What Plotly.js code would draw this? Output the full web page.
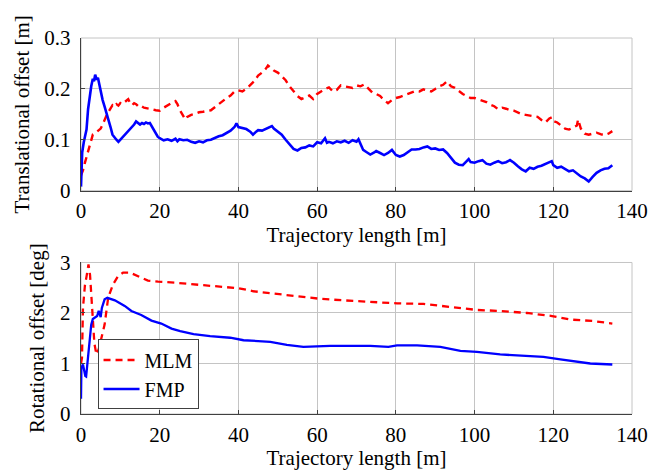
<!DOCTYPE html>
<html>
<head>
<meta charset="utf-8">
<script src="https://cdn.plot.ly/plotly-3.0.1.min.js"></script>
<style>html,body{margin:0;padding:0;background:#fff;}#chart{width:650px;height:472px;}</style>
</head>
<body>
<div id="chart"></div>
<script>
// ---- Top plot: translational offset [m] ----
const transX_FMP = [0,0.3,0.7,1,1.4,1.8,2.2,2.6,3,3.3,3.6,4,4.3,4.7,5,5.5,6,6.5,7,7.5,8,8.5,9,9.5,10,10.5,11,11.5,12,12.5,13,13.5,14,14.5,15,15.5,16,16.5,17,17.5,18,18.5,19,19.5,20,21,22,23,24,24.5,25,26,27,28,29,30,31,32,33,34,35,36,37,38,39,39.5,40,41,42,43,43.7,44.5,45,46,47,48,48.5,49,50,51,52,53,54,55,56,57,58,59,60,61,62,62.5,63,64,65,66,67,68,69,70,70.5,71,71.7,72.5,73.5,74.5,75,76,77,78,79,80,81,82,83,84,85,86,87,88,89,90,91,92,93,94,95,96,97,98,98.5,99,100,101,102,103,104,105,106,107,108,109,110,111,112,113,114,115,116,117,118,119,119.6,120,121,122,123,124,125,126,127,128,129,130,131,132,133,134,135];
const transY_FMP = [0.008,0.075,0.095,0.105,0.120,0.160,0.185,0.205,0.220,0.215,0.228,0.218,0.222,0.205,0.195,0.178,0.165,0.152,0.142,0.125,0.110,0.104,0.100,0.096,0.100,0.104,0.108,0.112,0.118,0.121,0.126,0.130,0.136,0.132,0.130,0.133,0.131,0.134,0.132,0.133,0.126,0.118,0.112,0.106,0.103,0.099,0.101,0.098,0.102,0.097,0.101,0.099,0.100,0.096,0.094,0.097,0.095,0.099,0.100,0.104,0.107,0.109,0.114,0.118,0.125,0.132,0.125,0.123,0.121,0.116,0.110,0.116,0.119,0.118,0.121,0.124,0.127,0.122,0.116,0.110,0.100,0.090,0.082,0.079,0.084,0.085,0.089,0.087,0.095,0.093,0.103,0.094,0.096,0.093,0.097,0.095,0.098,0.094,0.099,0.096,0.101,0.092,0.080,0.076,0.071,0.075,0.078,0.074,0.070,0.074,0.080,0.070,0.067,0.070,0.075,0.081,0.081,0.082,0.085,0.087,0.082,0.083,0.080,0.081,0.074,0.064,0.055,0.051,0.050,0.058,0.062,0.056,0.055,0.058,0.060,0.053,0.051,0.055,0.058,0.054,0.056,0.060,0.055,0.048,0.042,0.038,0.045,0.043,0.047,0.049,0.052,0.055,0.058,0.050,0.045,0.047,0.043,0.038,0.040,0.034,0.028,0.024,0.018,0.027,0.035,0.040,0.043,0.044,0.050];

const transX_MLM = [0,0.5,1,1.5,2,2.5,3,3.5,4,4.5,5,5.5,6,6.5,7,7.5,8,8.5,9,9.5,10,10.5,11,11.5,12,12.5,13,13.5,14,14.5,15,16,17,18,19,20,21,22,23,24,24.5,25,26,26.5,27,28,29,30,31,32,33,34,35,36,37,38,39,40,41,42,43,44,45,46,47,47.5,48,49,50,51,52,53,54,55,56,57,58,59,60,61,62,63,64,65,66,67,68,69,70,71,72,73,74,75,76,77,78,79,80,81,82,83,84,85,86,87,88,89,90,91,92,93,94,95,96,97,98,99,100,101,102,103,104,105,106,107,108,109,110,111,112,113,114,115,116,117,118,119,119.6,120,121,122,123,124,125,126,126.3,127,128,129,130,131,132,133,134,135];
const transY_MLM = [0.030,0.040,0.055,0.070,0.085,0.100,0.110,0.112,0.115,0.118,0.122,0.130,0.140,0.148,0.155,0.162,0.168,0.165,0.170,0.167,0.172,0.170,0.174,0.176,0.180,0.172,0.168,0.172,0.170,0.166,0.168,0.163,0.162,0.160,0.158,0.157,0.163,0.168,0.172,0.176,0.170,0.160,0.145,0.140,0.145,0.149,0.151,0.154,0.155,0.157,0.158,0.164,0.170,0.177,0.182,0.187,0.195,0.197,0.195,0.200,0.207,0.215,0.226,0.232,0.240,0.246,0.243,0.236,0.232,0.225,0.217,0.205,0.195,0.186,0.180,0.184,0.187,0.180,0.190,0.195,0.200,0.203,0.195,0.198,0.207,0.205,0.203,0.202,0.207,0.205,0.209,0.201,0.193,0.190,0.186,0.178,0.172,0.178,0.182,0.184,0.187,0.190,0.193,0.196,0.195,0.199,0.197,0.195,0.200,0.205,0.208,0.215,0.205,0.202,0.196,0.190,0.186,0.182,0.182,0.179,0.176,0.174,0.169,0.166,0.160,0.163,0.161,0.158,0.157,0.153,0.150,0.149,0.148,0.147,0.145,0.139,0.134,0.142,0.144,0.137,0.134,0.128,0.122,0.120,0.124,0.128,0.140,0.122,0.112,0.110,0.112,0.114,0.111,0.109,0.112,0.117];

// ---- Bottom plot: rotational offset [deg] ----
const rotX_MLM = [0,0.25,0.5,1,1.4,1.9,2.3,2.6,3.0,3.4,3.9,4.5,5.2,6.0,6.9,8.1,9.4,10.7,12.4,14.5,17,19.6,23.8,31.1,36.2,40,43.8,49.8,56.5,60.8,66.7,73.5,80.3,87,93.8,100.6,106.5,113.3,119.7,124.3,130.3,135];
const rotY_MLM = [1.0,1.11,2.1,2.55,2.72,2.96,2.75,2.43,1.80,1.40,1.18,1.28,1.51,1.77,2.30,2.56,2.73,2.80,2.80,2.73,2.64,2.62,2.60,2.55,2.52,2.49,2.43,2.38,2.32,2.28,2.25,2.22,2.19,2.18,2.12,2.06,2.04,2.00,1.94,1.87,1.84,1.79];

const rotX_FMP = [0,0.1,0.5,0.8,1.1,1.3,1.6,2.2,2.6,3.0,3.5,4.1,4.5,5.0,5.3,6.0,6.7,8.6,11.1,12.8,15.3,17.9,20.4,23,25.2,28.6,32.8,37.9,41.3,48.1,52.3,56.5,63.3,73.5,78.1,80.3,85.4,91.3,96.4,100.6,106.5,113.3,117.5,121.8,126,129.4,135];
const rotY_FMP = [0.30,0.92,0.98,0.85,0.75,0.74,0.95,1.44,1.77,1.88,1.91,1.94,2.04,1.92,2.10,2.27,2.30,2.25,2.14,2.04,1.96,1.85,1.79,1.69,1.64,1.58,1.54,1.51,1.46,1.43,1.37,1.33,1.35,1.35,1.33,1.36,1.36,1.33,1.25,1.23,1.18,1.15,1.13,1.08,1.03,1.00,0.98];

const seriesNames = ['MLM', 'FMP'];
const xTicks = [0,20,40,60,80,100,120,140];
const xTitle = 'Trajectory length [m]';
const yTitleTop = 'Translational offset [m]';
const yTitleBottom = 'Rotational offset [deg]';

const RED = '#ff0000', BLUE = '#0000ff';
const FONT = {family: '"Liberation Serif", "DejaVu Serif", serif', size: 21, color: '#000'};
const LFONT = {family: '"Liberation Serif", "DejaVu Serif", serif', size: 20, color: '#000'};
const DASH = '7px,5px';

const traces = [
  {x: transX_MLM, y: transY_MLM, xaxis: 'x', yaxis: 'y', mode: 'lines', name: seriesNames[0], showlegend: false,
   line: {color: RED, width: 2.4, dash: DASH}},
  {x: transX_FMP, y: transY_FMP, xaxis: 'x', yaxis: 'y', mode: 'lines', name: seriesNames[1], showlegend: false,
   line: {color: BLUE, width: 2.6}},
  {x: rotX_MLM, y: rotY_MLM, xaxis: 'x2', yaxis: 'y2', mode: 'lines', name: seriesNames[0],
   line: {color: RED, width: 2.3, dash: DASH}},
  {x: rotX_FMP, y: rotY_FMP, xaxis: 'x2', yaxis: 'y2', mode: 'lines', name: seriesNames[1],
   line: {color: BLUE, width: 2.3}}
];

const GRID = '#c4c4c4', AXC = '#404040';
function xa(anchor) {
  return {anchor: anchor, range: [0,140], tickvals: xTicks, showgrid: true, gridcolor: GRID, gridwidth: 1,
    showline: true, linecolor: AXC, linewidth: 1.3, ticks: 'inside', ticklen: 4, tickcolor: AXC, tickwidth: 1,
    zeroline: false, tickfont: FONT, ticklabelstandoff: 1,
    title: {text: xTitle, font: FONT, standoff: 4}, automargin: false};
}
function ya(anchor, dom, range, dtick, title) {
  return {anchor: anchor, domain: dom, range: range, dtick: dtick, tick0: 0, showgrid: true, gridcolor: GRID, gridwidth: 1,
    showline: true, linecolor: AXC, linewidth: 1.3, ticks: 'inside', ticklen: 4, tickcolor: AXC, tickwidth: 1,
    zeroline: false, tickfont: FONT, ticklabelstandoff: 5,
    title: {text: title, font: FONT, standoff: 9}, automargin: false};
}

const layout = {
  width: 650, height: 472,
  margin: {l: 81, r: 18, t: 38, b: 58},
  paper_bgcolor: '#fff', plot_bgcolor: '#fff',
  font: FONT,
  xaxis: xa('y'),
  yaxis: ya('x', [0.594, 1], [0, 0.3], 0.1, yTitleTop),
  xaxis2: xa('y2'),
  yaxis2: ya('x2', [0, 0.403], [0, 3], 1, yTitleBottom),
  shapes: [
    {type: 'rect', xref: 'x domain', yref: 'y domain', x0: 0, x1: 1, y0: 0, y1: 1, line: {color: GRID, width: 1}, layer: 'below'},
    {type: 'rect', xref: 'x2 domain', yref: 'y2 domain', x0: 0, x1: 1, y0: 0, y1: 1, line: {color: GRID, width: 1}, layer: 'below'}
  ],
  legend: {x: 0.03, y: 0.012, xanchor: 'left', yanchor: 'bottom', bgcolor: '#fff', bordercolor: AXC, borderwidth: 1,
    font: LFONT, tracegroupgap: 0, itemwidth: 36},
  showlegend: true
};

Plotly.newPlot('chart', traces, layout, {staticPlot: true, displayModeBar: false});
</script>
</body>
</html>
